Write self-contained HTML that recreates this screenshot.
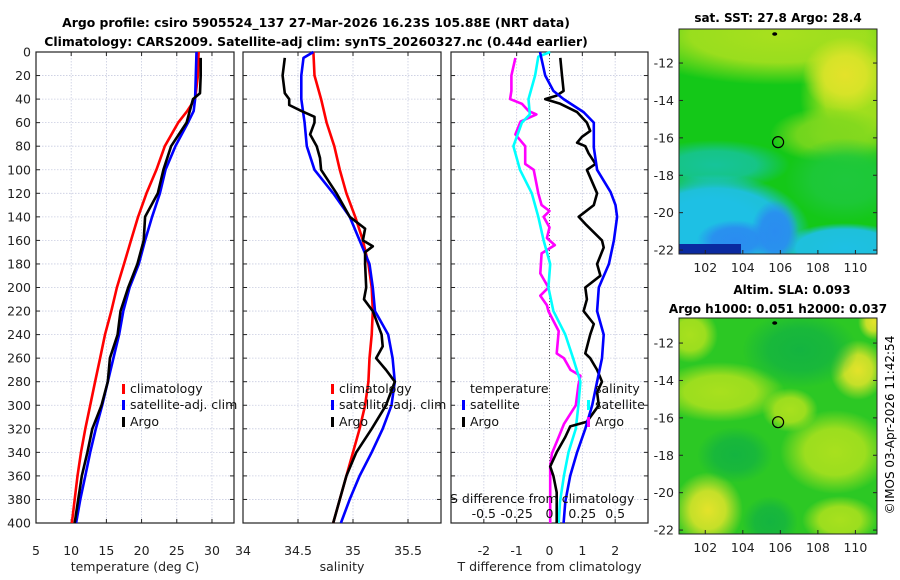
<!DOCTYPE html>
<html><head><meta charset="utf-8"><style>
html,body{margin:0;padding:0;background:#fff;width:900px;height:580px;overflow:hidden}
svg{display:block;font-family:"DejaVu Sans","Liberation Sans",sans-serif}
</style></head><body>
<svg id="fig" width="900" height="580" xmlns="http://www.w3.org/2000/svg">
<defs>
<radialGradient id="gyg"><stop offset="0" stop-color="#a8e01e" stop-opacity="1"/><stop offset="0.55" stop-color="#a8e01e" stop-opacity="0.9"/><stop offset="1" stop-color="#a8e01e" stop-opacity="0"/></radialGradient>
<radialGradient id="gy"><stop offset="0" stop-color="#e4e22a" stop-opacity="1"/><stop offset="0.5" stop-color="#e0e42a" stop-opacity="0.85"/><stop offset="1" stop-color="#e0e42a" stop-opacity="0"/></radialGradient>
<radialGradient id="glg"><stop offset="0" stop-color="#80d81e" stop-opacity="1"/><stop offset="0.55" stop-color="#80d81e" stop-opacity="0.85"/><stop offset="1" stop-color="#80d81e" stop-opacity="0"/></radialGradient>
<radialGradient id="ggr"><stop offset="0" stop-color="#1ec83c" stop-opacity="1"/><stop offset="0.55" stop-color="#1ec83c" stop-opacity="0.85"/><stop offset="1" stop-color="#1ec83c" stop-opacity="0"/></radialGradient>
<radialGradient id="gtl"><stop offset="0" stop-color="#16c49a" stop-opacity="1"/><stop offset="0.55" stop-color="#16c49a" stop-opacity="0.85"/><stop offset="1" stop-color="#16c49a" stop-opacity="0"/></radialGradient>
<radialGradient id="gcy"><stop offset="0" stop-color="#1ec0e4" stop-opacity="1"/><stop offset="0.75" stop-color="#1ec0e4" stop-opacity="0.95"/><stop offset="1" stop-color="#1ec0e4" stop-opacity="0"/></radialGradient>
<radialGradient id="gbl"><stop offset="0" stop-color="#2a8cf0" stop-opacity="1"/><stop offset="0.6" stop-color="#2a8cf0" stop-opacity="0.9"/><stop offset="1" stop-color="#2a8cf0" stop-opacity="0"/></radialGradient>
<radialGradient id="gdg"><stop offset="0" stop-color="#14b440" stop-opacity="1"/><stop offset="0.55" stop-color="#14b440" stop-opacity="0.8"/><stop offset="1" stop-color="#14b440" stop-opacity="0"/></radialGradient>
<clipPath id="c1"><rect x="679" y="29" width="198" height="225"/></clipPath>
<clipPath id="c2"><rect x="679" y="318" width="198" height="216"/></clipPath>
</defs>
<text x="316" y="27" text-anchor="middle" font-size="12.4" font-weight="bold">Argo profile: csiro 5905524_137 27-Mar-2026 16.23S 105.88E (NRT data)</text>
<text x="316" y="46" text-anchor="middle" font-size="12.4" font-weight="bold">Climatology: CARS2009. Satellite-adj clim: synTS_20260327.nc (0.44d earlier)</text>
<g clip-path="url(#c1)">
<rect x="679" y="29" width="198" height="225" fill="#14c818"/>
<ellipse cx="778" cy="35" rx="160" ry="50" fill="url(#gyg)"/>
<ellipse cx="855" cy="95" rx="55" ry="75" fill="url(#gyg)"/>
<ellipse cx="845" cy="75" rx="42" ry="38" fill="url(#gy)"/>
<ellipse cx="830" cy="135" rx="60" ry="28" fill="url(#glg)"/>
<ellipse cx="845" cy="180" rx="60" ry="42" fill="url(#ggr)"/>
<ellipse cx="715" cy="165" rx="75" ry="25" fill="url(#gtl)"/>
<ellipse cx="715" cy="232" rx="95" ry="58" fill="url(#gcy)"/>
<ellipse cx="710" cy="225" rx="60" ry="35" fill="url(#gcy)"/>
<ellipse cx="845" cy="248" rx="65" ry="25" fill="url(#gcy)"/>
<ellipse cx="775" cy="232" rx="24" ry="32" fill="url(#gbl)"/>
<ellipse cx="735" cy="240" rx="38" ry="20" fill="url(#gbl)"/>
<rect x="679" y="244" width="62" height="10" fill="#0a2aa0"/>
</g>
<rect x="679" y="29" width="198" height="225" fill="none" stroke="#222" stroke-width="1"/>
<text x="778" y="22" text-anchor="middle" font-size="12" font-weight="bold">sat. SST: 27.8 Argo: 28.4</text>
<text x="792" y="294" text-anchor="middle" font-size="12" font-weight="bold">Altim. SLA: 0.093</text>
<text x="778" y="313" text-anchor="middle" font-size="12" font-weight="bold">Argo h1000: 0.051 h2000: 0.037</text>
<g clip-path="url(#c2)">
<rect x="679" y="318" width="198" height="216" fill="#2cc824"/>
<ellipse cx="690" cy="335" rx="28" ry="28" fill="url(#gyg)"/>
<ellipse cx="720" cy="392" rx="65" ry="30" fill="url(#gyg)"/>
<ellipse cx="790" cy="410" rx="28" ry="22" fill="url(#gyg)"/>
<ellipse cx="835" cy="452" rx="55" ry="42" fill="url(#gyg)"/>
<ellipse cx="840" cy="520" rx="38" ry="24" fill="url(#gyg)"/>
<ellipse cx="858" cy="370" rx="28" ry="30" fill="url(#gy)"/>
<ellipse cx="874" cy="322" rx="16" ry="18" fill="url(#gy)"/>
<ellipse cx="708" cy="510" rx="35" ry="38" fill="url(#gy)"/>
<ellipse cx="800" cy="350" rx="58" ry="38" fill="url(#gdg)"/>
<ellipse cx="735" cy="455" rx="38" ry="28" fill="url(#gdg)"/>
<ellipse cx="770" cy="522" rx="28" ry="26" fill="url(#gdg)"/>
</g>
<rect x="679" y="318" width="198" height="216" fill="none" stroke="#222" stroke-width="1"/>
<text transform="translate(894,425) rotate(-90)" text-anchor="middle" font-size="12">©IMOS 03-Apr-2026 11:42:54</text>
<g id="plots"></g>
</svg>
<script>
// ---- data ----
const depthT=[0,20,40,50,60,80,100,120,140,160,180,200,220,240,260,280,300,320,340,360,380,400];
const tempClim=[28.1,28.0,27.6,26.5,25.2,23.3,22.1,20.7,19.5,18.5,17.5,16.5,15.7,14.8,14.1,13.4,12.7,12.0,11.4,10.9,10.5,10.1];
const tempSat=[27.8,27.7,27.6,27.4,26.6,24.8,23.4,22.6,21.5,20.5,19.6,18.3,17.4,16.8,16.0,15.2,14.4,13.5,12.7,12.0,11.3,10.7];
const depthArgoT=[5,20,35,40,60,80,100,120,140,160,180,200,220,240,260,280,300,320,340,360,380,400];
const tempArgo=[28.4,28.4,28.3,27.3,26.4,24.2,23.1,22.3,20.5,20.3,19.4,18.1,17.0,16.6,15.5,15.2,14.3,13.0,12.3,11.5,11.0,10.5];
const depthS=[0,20,40,60,80,100,120,140,160,180,200,220,240,260,280,300,320,340,360,380,400];
const salClim=[34.64,34.65,34.71,34.76,34.83,34.88,34.94,35.02,35.09,35.14,35.17,35.18,35.17,35.15,35.14,35.11,35.06,35.0,34.94,34.88,34.82];
const depthSatS=[0,5,20,40,60,80,100,120,140,160,180,200,220,240,260,280,300,320,340,360,380,400];
const salSat=[34.64,34.55,34.53,34.53,34.56,34.58,34.65,34.82,34.97,35.06,35.15,35.18,35.2,35.32,35.36,35.38,35.35,35.27,35.17,35.06,34.97,34.89];
const depthArgoS=[5,20,35,40,45,50,55,60,70,80,90,100,120,140,150,160,165,170,180,200,210,220,240,250,260,270,280,300,320,340,360,380,400];
const salArgo=[34.38,34.36,34.38,34.42,34.42,34.53,34.65,34.65,34.61,34.67,34.70,34.71,34.85,34.97,35.11,35.09,35.18,35.11,35.11,35.12,35.10,35.18,35.26,35.27,35.21,35.30,35.38,35.30,35.17,35.03,34.94,34.88,34.82];
const depthDTA=[5,20,33,37,40,44,51,60,67,72,77,80,86,95,100,120,130,140,146,160,166,180,190,200,210,220,231,240,256,260,270,280,289,300,314,318,327,340,352,360,374,400];
const dTArgo=[0.33,0.38,0.43,0.22,-0.13,0.33,0.84,1.14,1.24,0.99,0.84,1.09,1.19,1.40,1.14,1.45,1.35,0.89,1.09,1.6,1.65,1.45,1.55,1.09,1.14,1.04,1.35,1.24,1.09,1.24,1.45,1.6,1.45,1.5,1.14,0.63,0.48,0.22,0.02,0.12,0.22,0.22];
const depthDTS=[0,20,33,40,51,60,81,100,119,130,140,160,180,200,220,240,260,280,300,320,340,360,382,400];
const dTSat=[-0.29,-0.13,0.12,0.43,1.04,1.35,1.35,1.45,1.86,2.01,2.06,1.96,1.81,1.5,1.45,1.65,1.6,1.45,1.3,1.09,0.84,0.63,0.48,0.43];
const depthDSS=[0,4,20,40,53,60,80,100,120,140,160,180,200,220,240,260,280,300,320,340,360,382,400];
const dSSat=[0.005,-0.085,-0.11,-0.16,-0.15,-0.21,-0.275,-0.225,-0.135,-0.085,-0.045,0.005,-0.008,0.03,0.12,0.18,0.235,0.22,0.2,0.145,0.11,0.08,0.07];
const depthDSA=[5,20,33,40,44,50,53,59,70,80,95,100,120,130,135,140,149,158,164,171,188,200,207,215,220,237,256,260,270,275,283,300,316,327,341,352,400];
const dSArgo=[-0.26,-0.29,-0.29,-0.30,-0.21,-0.16,-0.1,-0.22,-0.26,-0.185,-0.185,-0.12,-0.085,-0.06,0.0,-0.045,0.0,-0.02,0.04,-0.06,-0.07,-0.008,-0.07,-0.02,-0.008,0.07,0.055,0.11,0.16,0.235,0.22,0.2,0.11,0.07,0.018,0.005,0.005];
const depthTicks=[0,20,40,60,80,100,120,140,160,180,200,220,240,260,280,300,320,340,360,380,400];
const tTicks=[5,10,15,20,25,30];
const sTicks=[34,34.5,35,35.5];
const dTicks=[-2,-1,0,1,2];
const dsTicks=[-0.5,-0.25,0,0.25,0.5];
const latTicks=[-12,-14,-16,-18,-20,-22];
const lonTicks=[102,104,106,108,110];
</script>
<script>
const NS="http://www.w3.org/2000/svg";
const root=document.getElementById('plots');
function el(tag,attrs,parent,txt){const e=document.createElementNS(NS,tag);for(const k in attrs)e.setAttribute(k,attrs[k]);if(txt!==undefined)e.textContent=txt;(parent||root).appendChild(e);return e;}
const Y0=52,Y1=523;
const yD=d=>Y0+(d/400)*(Y1-Y0);
function panel(name,x0,x1,xmin,xmax,ticks,fmt,title,ylabels){
  const g=el('g',{});
  
  
  const sx=v=>x0+(v-xmin)/(xmax-xmin)*(x1-x0);
  depthTicks.forEach(d=>{const l=el('line',{x1:x0,x2:x1,y1:yD(d),y2:yD(d),stroke:'#c8cce0','stroke-width':0.8,'stroke-dasharray':'1.5,1.5'},g);
    el('line',{x1:x0,x2:x0+4,y1:yD(d),y2:yD(d),stroke:'#222'},g);el('line',{x1:x1-4,x2:x1,y1:yD(d),y2:yD(d),stroke:'#222'},g);
    if(ylabels){const t=el('text',{x:x0-5,y:yD(d)+4.5,'text-anchor':'end','font-size':12.5,fill:'#222'},g,String(d));}
  });
  ticks.forEach(v=>{const x=sx(v);
    if(x>x0+1&&x<x1-1)el('line',{x1:x,x2:x,y1:Y0,y2:Y1,stroke:'#c8cce0','stroke-width':0.8,'stroke-dasharray':'1.5,1.5'},g);
    el('line',{x1:x,x2:x,y1:Y1,y2:Y1-4,stroke:'#222'},g);el('line',{x1:x,x2:x,y1:Y0,y2:Y0+4,stroke:'#222'},g);
    const t=el('text',{x:x,y:555,'text-anchor':'middle','font-size':12.5,fill:'#222'},g,fmt(v));
  });
  const r=el('rect',{x:x0,y:Y0,width:x1-x0,height:Y1-Y0,fill:'none',stroke:'#222','stroke-width':1.2},g);
  
  const tt=el('text',{x:(x0+x1)/2,y:571,'text-anchor':'middle','font-size':12.5,fill:'#222'},g,title);
  
  return {g,sx};
}
function line(p,depths,vals,color,name,w){
  const pts=depths.map((d,i)=>p.sx(vals[i]).toFixed(1)+','+yD(d).toFixed(1)).join(' ');
  const pl=el('polyline',{points:pts,fill:'none',stroke:color,'stroke-width':w||2.6,'stroke-linejoin':'round'},p.g);
  
  
}
function legend(g,x,y,color,label,name){
  if(color){el('rect',{x:x,y:y-9,width:3,height:10,fill:color},g);}
  const t=el('text',{x:x+8,y:y,'font-size':12.5,fill:'#111'},g,label);
  
  
}
const p1=panel('temperature-panel',36,234,5,33.13,tTicks,v=>String(v),'temperature (deg C)',true);
line(p1,depthT,tempClim,'#ff0000','temp-climatology-line');
line(p1,depthT,tempSat,'#0000ff','temp-satellite-line');
line(p1,depthArgoT,tempArgo,'#000000','temp-argo-line');
legend(p1.g,122,393,'#ff0000','climatology','legend-climatology');
legend(p1.g,122,409,'#0000ff','satellite-adj. clim','legend-satellite');
legend(p1.g,122,426,'#000000','Argo','legend-argo');
const p2=panel('salinity-panel',243,441,34,35.8,sTicks,v=>String(v),'salinity',false);
line(p2,depthS,salClim,'#ff0000','sal-climatology-line');
line(p2,depthSatS,salSat,'#0000ff','sal-satellite-line');
line(p2,depthArgoS,salArgo,'#000000','sal-argo-line');
legend(p2.g,331,393,'#ff0000','climatology','legend-climatology');
legend(p2.g,331,409,'#0000ff','satellite-adj. clim','legend-satellite');
legend(p2.g,331,426,'#000000','Argo','legend-argo');
const p3=panel('difference-panel',451,648,-3,3,dTicks,v=>String(v),'T difference from climatology',false);
el('line',{x1:p3.sx(0),x2:p3.sx(0),y1:Y0,y2:Y1,stroke:'#555','stroke-width':1,'stroke-dasharray':'1,2'},p3.g);
const pS={g:p3.g,sx:v=>p3.sx(v*4)};
line(pS,depthDSA,dSArgo,'#ff00ff','sal-diff-argo-line');
line(pS,depthDSS,dSSat,'#00ffff','sal-diff-satellite-line');
line(p3,depthDTA,dTArgo,'#000000','temp-diff-argo-line');
line(p3,depthDTS,dTSat,'#0000ff','temp-diff-satellite-line');
legend(p3.g,462,393,null,'temperature','legend-temperature-header');
legend(p3.g,462,409,'#0000ff','satellite','legend-temp-satellite');
legend(p3.g,462,426,'#000000','Argo','legend-temp-argo');
legend(p3.g,587,393,null,'salinity','legend-salinity-header');
legend(p3.g,587,409,'#00ffff','satellite','legend-sal-satellite');
legend(p3.g,587,426,'#ff00ff','Argo','legend-sal-argo');
const st=el('text',{x:450,y:503,'font-size':12.5,fill:'#111'},p3.g,'S difference from climatology');

dsTicks.forEach(v=>{const t=el('text',{x:pS.sx(v),y:518,'text-anchor':'middle','font-size':12.5,fill:'#111'},p3.g,String(v));});
function mapAxes(name,top,bot,latTop,latBot){
  const g=el('g',{});
  
  
  const ly=v=>top+(latTop-v)/(latTop-latBot)*(bot-top);
  const lx=v=>679+(v-100.6)/(111.15-100.6)*198;
  latTicks.forEach(v=>{el('line',{x1:877,x2:873,y1:ly(v),y2:ly(v),stroke:'#222'},g);el('line',{x1:679,x2:683,y1:ly(v),y2:ly(v),stroke:'#222'},g);
    const t=el('text',{x:674,y:ly(v)+4.5,'text-anchor':'end','font-size':12.5,fill:'#222'},g,String(v));});
  lonTicks.forEach(v=>{el('line',{x1:lx(v),x2:lx(v),y1:bot,y2:bot-4,stroke:'#222'},g);
    const t=el('text',{x:lx(v),y:bot+18,'text-anchor':'middle','font-size':12.5,fill:'#222'},g,String(v));});
  const c=el('circle',{cx:lx(105.88),cy:ly(-16.23),r:5.5,fill:'none',stroke:'#000','stroke-width':1.2},g);
  
  el('ellipse',{cx:lx(105.7),cy:top+5,rx:2.5,ry:1.8,fill:'#000'},g);
}
mapAxes('sst-map-axes',29,254,-10.18,-22.21);
mapAxes('sla-map-axes',318,534,-10.66,-22.21);
</script>
</body></html>
